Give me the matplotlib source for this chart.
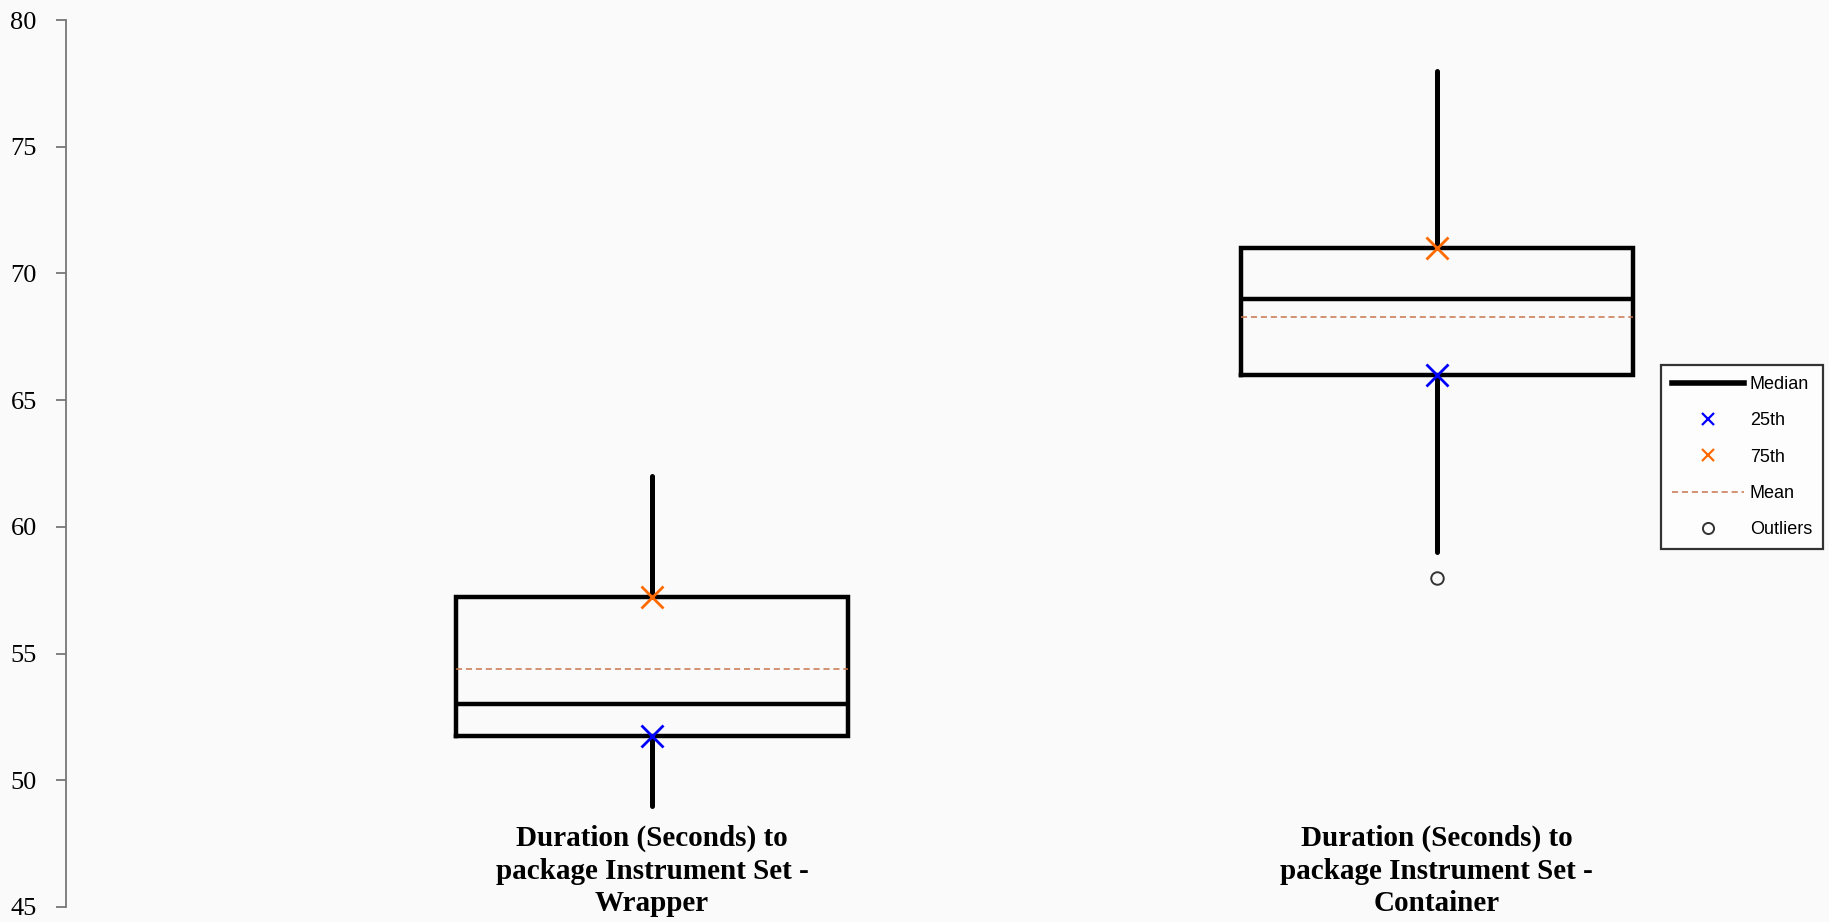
import matplotlib
matplotlib.use("Agg")
import matplotlib.pyplot as plt
from matplotlib.lines import Line2D

# values
labels = ["Duration (Seconds) to\npackage Instrument Set -\nWrapper",
          "Duration (Seconds) to\npackage Instrument Set -\nContainer"]
whisker_low = [49, 59]
q1 = [51.75, 66]
median = [53, 69]
mean = [54.4, 68.3]
q3 = [57.25, 71]
whisker_high = [62, 78]
outliers = [[], [58]]
y_ticks = [45, 50, 55, 60, 65, 70, 75, 80]

BG = "#fafafa"
BLUE = "#0000ff"
ORANGE = "#ff6a00"
MEAN_C = "#c8754e"

fig = plt.figure(figsize=(18.29, 9.22), dpi=100, facecolor=BG)
ax = fig.add_axes([0.0361, 0.0163, 0.9639, 0.9620], facecolor=BG)

stats = []
for i in range(len(labels)):
    stats.append(dict(whislo=whisker_low[i], q1=q1[i], med=median[i], mean=mean[i],
                      q3=q3[i], whishi=whisker_high[i], fliers=outliers[i], label=""))

pos = [1, 2]
ax.bxp(stats, positions=pos, widths=0.5, showmeans=True, meanline=True, showcaps=False,
       boxprops=dict(color="black", linewidth=3.2, solid_joinstyle="miter"),
       whiskerprops=dict(color="black", linewidth=3.6, solid_capstyle="round"),
       medianprops=dict(color="black", linewidth=3.2),
       meanprops=dict(color=MEAN_C, linewidth=1.1, linestyle=(0, (4, 2.5))),
       flierprops=dict(marker="o", markerfacecolor="none", markeredgecolor="#333333",
                       markersize=9, markeredgewidth=1.4))

# percentile markers
ax.plot(pos, q1, linestyle="none", marker="x", color=BLUE, markersize=16, markeredgewidth=2)
ax.plot(pos, q3, linestyle="none", marker="x", color=ORANGE, markersize=16, markeredgewidth=2)

# category labels drawn inside the plot
for p, lab in zip(pos, labels):
    ax.text(p, 46.42, lab, ha="center", va="center", multialignment="center",
            fontsize=21, fontweight="bold", family="Liberation Serif", linespacing=1.25,
            clip_on=False)

ax.set_xlim(0.253, 2.5)
ax.set_ylim(45, 80)
ax.set_yticks(y_ticks)
ax.set_yticklabels([str(t) for t in y_ticks], family="Liberation Serif", fontsize=19)
ax.set_xticks([])
for s in ["top", "right", "bottom"]:
    ax.spines[s].set_visible(False)
ax.spines["left"].set_color("#777777")
ax.spines["left"].set_linewidth(1.3)
ax.tick_params(axis="y", direction="out", length=7, width=1.3, color="#777777", pad=14)

handles = [
    Line2D([], [], color="black", linewidth=4),
    Line2D([], [], linestyle="none", marker="x", color=BLUE, markersize=9, markeredgewidth=1.6),
    Line2D([], [], linestyle="none", marker="x", color=ORANGE, markersize=9, markeredgewidth=1.6),
    Line2D([], [], color=MEAN_C, linewidth=1.1, linestyle=(0, (4, 2.5))),
    Line2D([], [], linestyle="none", marker="o", markerfacecolor="none",
           markeredgecolor="#333333", markersize=8, markeredgewidth=1.4),
]
leg = fig.legend(handles, ["Median", "25th", "75th", "Mean", "Outliers"],
                 loc="upper right", bbox_to_anchor=(0.9967, 0.604), borderaxespad=0,
                 frameon=True, fancybox=False, edgecolor="black", facecolor="white",
                 prop=dict(family="Liberation Sans", size=13), handlelength=4.0,
                 labelspacing=1.07, borderpad=0.6, handletextpad=0.3)
leg.get_frame().set_linewidth(1.6)

fig.savefig("out.png", dpi=100, facecolor=BG)
